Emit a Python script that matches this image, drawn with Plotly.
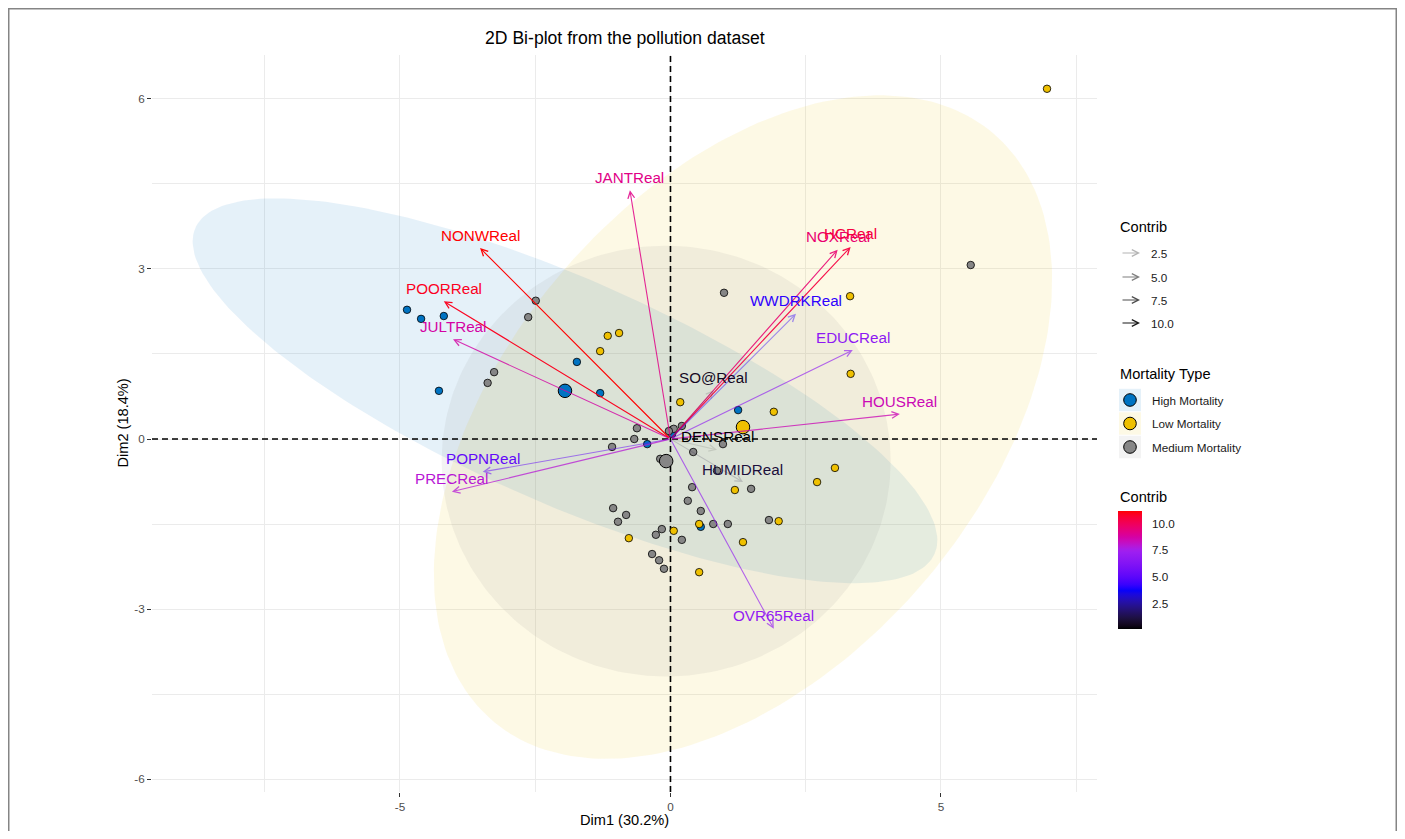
import numpy as np
import plotly.graph_objects as go

# ---------------- data ----------------
group_names = ["High Mortality", "Low Mortality", "Medium Mortality"]
group_colors = ["#0073C2", "#EFC000", "#868686"]

high_x = [-4.87, -4.61, -4.19, -4.28, -1.73, -1.30, 1.25, -0.43, 0.03, 0.56]
high_y = [2.28, 2.12, 2.17, 0.85, 1.36, 0.81, 0.51, -0.09, 0.09, -1.55]
low_x = [6.96, 3.32, 3.33, 1.91, 3.04, 2.71, -1.16, -0.95, -1.30, 0.18, 1.19, 0.53, 0.06, -0.77, 1.34, 2.00, 0.53]
low_y = [6.18, 2.52, 1.15, 0.48, -0.51, -0.76, 1.82, 1.87, 1.55, 0.65, -0.90, -1.50, -1.62, -1.75, -1.82, -1.45, -2.35]
med_x = [5.55, 0.99, -2.49, -2.63, -3.26, -3.38, -0.62, -0.67, -1.08, 0.06, 0.21, -0.03, -0.19, 0.42, 0.97, 0.86,
         1.49, 0.40, 0.32, 0.56, 0.79, 1.06, 1.82, -1.06, -0.82, -0.97, -0.16, -0.27, 0.21, -0.34, -0.21, -0.12]
med_y = [3.07, 2.58, 2.44, 2.15, 1.18, 0.99, 0.19, 0.00, -0.14, 0.18, 0.23, 0.14, -0.35, -0.23, -0.09, -0.56,
         -0.88, -0.85, -1.09, -1.27, -1.50, -1.50, -1.43, -1.22, -1.34, -1.46, -1.59, -1.69, -1.78, -2.03, -2.14, -2.29]

# group means (large points) and confidence-ellipse axes (data units)
centroid_x = [-1.95, 1.34, -0.08]
centroid_y = [0.85, 0.21, -0.39]
ell_a_x = [6.83, 4.63, 4.15]
ell_a_y = [-2.88, 5.18, 0.00]
ell_b_x = [-0.85, 3.35, 0.00]
ell_b_y = [-1.80, -2.73, 3.80]

# variables (arrow tips) and their contributions
var_names = ["JANTReal", "NONWReal", "POORReal", "JULTReal", "POPNReal", "PRECReal", "NOXReal", "HCReal",
             "WWDRKReal", "EDUCReal", "HOUSReal", "OVR65Real", "SO@Real", "DENSReal", "HUMIDReal"]
var_x = [-0.75, -3.52, -4.19, -4.02, -3.47, -4.04, 3.09, 3.33, 2.32, 3.37, 4.24, 1.91, 0.80, 0.86, 1.34]
var_y = [4.39, 3.37, 2.43, 1.76, -0.58, -0.93, 3.34, 3.39, 2.21, 1.57, 0.44, -3.35, 0.86, -0.19, -0.76]
var_contrib = [9.2, 11.15, 10.9, 8.7, 5.2, 7.9, 9.6, 10.4, 4.1, 6.7, 8.4, 6.9, 0.6, 0.09, 1.0]

gradient_cols = ["#000000", "#0000FF", "#A020F0", "#FF0000"]
contrib_breaks = [2.5, 5.0, 7.5, 10.0]
contrib_labels = ["2.5", "5.0", "7.5", "10.0"]

x_tickvals = [-5, 0, 5]
x_ticktext = ["-5", "0", "5"]
y_tickvals = [-6, -3, 0, 3, 6]
y_ticktext = ["-6", "-3", "0", "3", "6"]
x_minor = [-7.5, -2.5, 2.5, 7.5]
y_minor = [-4.5, -1.5, 1.5, 4.5]

# ---------------- layout helpers (page pixel -> paper) ----------------
FONT = "Liberation Sans, Arial, sans-serif"
OFF = 8                      # page body margin
W, H = 1389, 823             # figure size
PL, PR, PT, PB = 152, 1097, 55, 792   # panel edges in page pixels
XR = [-9.584, 7.884]
YR = [-6.229, 6.776]


def px(xp):
    return (xp - PL) / (PR - PL)


def py(yp):
    return (PB - yp) / (PB - PT)


M = np.array([[0.4124564, 0.3575761, 0.1804375],
              [0.2126729, 0.7151522, 0.0721750],
              [0.0193339, 0.1191920, 0.9503041]])
MINV = np.linalg.inv(M)
WP = np.array([0.95047, 1.0, 1.08883])


def _f(t):
    d = 6 / 29
    return np.where(t > d ** 3, np.cbrt(t), t / (3 * d * d) + 4 / 29)


def _finv(t):
    d = 6 / 29
    return np.where(t > d, t ** 3, 3 * d * d * (t - 4 / 29))


def hex_to_lab(h):
    rgb = np.array([int(h[i:i + 2], 16) for i in (1, 3, 5)]) / 255.0
    lin = np.where(rgb <= 0.04045, rgb / 12.92, ((rgb + 0.055) / 1.055) ** 2.4)
    xyz = (M @ lin) / WP
    fx, fy, fz = _f(xyz)
    return np.array([116 * fy - 16, 500 * (fx - fy), 200 * (fy - fz)])


def lab_to_rgb(lab):
    L, a, b = lab
    fy = (L + 16) / 116
    fx = fy + a / 500
    fz = fy - b / 200
    xyz = _finv(np.array([fx, fy, fz])) * WP
    lin = np.clip(MINV @ xyz, 0, 1)
    s = np.where(lin <= 0.0031308, 12.92 * lin, 1.055 * lin ** (1 / 2.4) - 0.055)
    return tuple(int(round(float(v) * 255)) for v in np.clip(s, 0, 1))


GL = [hex_to_lab(h) for h in gradient_cols]
CMIN, CMAX = min(var_contrib), max(var_contrib)


def grad_rgb(v):
    t = float(np.clip((v - CMIN) / (CMAX - CMIN), 0, 1)) * (len(GL) - 1)
    i = min(int(t), len(GL) - 2)
    f = t - i
    return lab_to_rgb(GL[i] * (1 - f) + GL[i + 1] * f)


def alpha_of(v):
    return 0.1 + 0.9 * (v - CMIN) / (CMAX - CMIN)


def rgba(hexc, a):
    r, g, b = (int(hexc[i:i + 2], 16) for i in (1, 3, 5))
    return f"rgba({r},{g},{b},{a})"


fig = go.Figure()

# ---------------- ellipses ----------------
t = np.linspace(0, 2 * np.pi, 240)
for k in range(3):
    ex = centroid_x[k] + ell_a_x[k] * np.cos(t) + ell_b_x[k] * np.sin(t)
    ey = centroid_y[k] + ell_a_y[k] * np.cos(t) + ell_b_y[k] * np.sin(t)
    fig.add_trace(go.Scatter(x=ex, y=ey, mode="lines", fill="toself",
                             fillcolor=rgba(group_colors[k], 0.1), line=dict(width=0),
                             hoverinfo="skip", showlegend=False))

# ---------------- dashed reference lines through the origin ----------------
fig.add_trace(go.Scatter(x=[0, 0], y=YR, mode="lines", line=dict(color="black", width=1.6, dash="6px,4px"),
                         hoverinfo="skip", showlegend=False, cliponaxis=True))
fig.add_trace(go.Scatter(x=XR, y=[0, 0], mode="lines", line=dict(color="black", width=1.6, dash="6px,4px"),
                         hoverinfo="skip", showlegend=False, cliponaxis=True))

# ---------------- individuals ----------------
gx = [high_x, low_x, med_x]
gy = [high_y, low_y, med_y]
for k in range(3):
    fig.add_trace(go.Scatter(x=gx[k], y=gy[k], mode="markers",
                             marker=dict(size=7.5, color=group_colors[k], line=dict(color="#000000", width=0.8)),
                             hoverinfo="skip", showlegend=False))
for k in range(3):
    fig.add_trace(go.Scatter(x=[centroid_x[k]], y=[centroid_y[k]], mode="markers",
                             marker=dict(size=13.5, color=group_colors[k], line=dict(color="#000000", width=1)),
                             hoverinfo="skip", showlegend=False))

# colour bar (invisible markers carrying the contrib scale)
BAR_TOP, BAR_BOT = 511, 629
cs = []
for i in range(41):
    v = CMIN + (CMAX - CMIN) * i / 40
    r, g, b = grad_rgb(v)
    cs.append([i / 40, f"rgb({r},{g},{b})"])
fig.add_trace(go.Scatter(x=var_x, y=var_y, mode="markers", hoverinfo="skip", showlegend=False,
                         marker=dict(size=1, opacity=0, color=var_contrib, colorscale=cs, cmin=CMIN, cmax=CMAX,
                                     showscale=True,
                                     colorbar=dict(thickness=24, thicknessmode="pixels",
                                                   len=BAR_BOT - BAR_TOP, lenmode="pixels",
                                                   x=px(1118), xanchor="left", y=py((BAR_TOP + BAR_BOT) / 2),
                                                   yanchor="middle", xpad=0, ypad=0, outlinewidth=0,
                                                   tickmode="array", tickvals=contrib_breaks,
                                                   ticks="", showticklabels=False,
                                                   title=dict(text="")))))

shapes = []
annotations = []

# variable arrows + labels
for name, vx, vy, c in zip(var_names, var_x, var_y, var_contrib):
    r, g, b = grad_rgb(c)
    annotations.append(dict(x=vx, y=vy, xref="x", yref="y", ax=0, ay=0, axref="x", ayref="y", text="",
                            showarrow=True, arrowhead=5, arrowsize=1.2, arrowwidth=1.1, standoff=0,
                            arrowcolor=f"rgba({r},{g},{b},{alpha_of(c):.3f})"))
    annotations.append(dict(x=vx, y=vy, xref="x", yref="y", text=name, showarrow=False, yshift=13,
                            xanchor="center", yanchor="middle",
                            font=dict(family=FONT, size=15.2, color=f"rgb({r},{g},{b})")))

# titles
annotations.append(dict(x=0.5, y=py(38), xref="paper", yref="paper", text="2D Bi-plot from the pollution dataset",
                        showarrow=False, xanchor="center", yanchor="middle",
                        font=dict(family=FONT, size=17.6, color="black")))
annotations.append(dict(x=0.5, y=py(820), xref="paper", yref="paper", text="Dim1 (30.2%)",
                        showarrow=False, xanchor="center", yanchor="middle",
                        font=dict(family=FONT, size=14.6, color="black")))
annotations.append(dict(x=px(122), y=0.5, xref="paper", yref="paper", text="Dim2 (18.4%)", textangle=-90,
                        showarrow=False, xanchor="center", yanchor="middle",
                        font=dict(family=FONT, size=14.6, color="black")))

# legend: Contrib (alpha arrows)
annotations.append(dict(x=px(1118), y=py(227), xref="paper", yref="paper", text="Contrib", showarrow=False,
                        xanchor="left", yanchor="middle", font=dict(family=FONT, size=14.6, color="black")))
for val, lab, yp in zip(contrib_breaks, contrib_labels, [253, 277, 300, 323]):
    annotations.append(dict(x=px(1140), y=py(yp), xref="paper", yref="paper", ax=-19, ay=0, text="",
                            showarrow=True, arrowhead=5, arrowsize=1.2, arrowwidth=1.1, standoff=0,
                            arrowcolor=f"rgba(0,0,0,{alpha_of(val):.3f})"))
    annotations.append(dict(x=px(1149), y=py(yp), xref="paper", yref="paper", text=lab, showarrow=False,
                            xanchor="left", yanchor="middle", font=dict(family=FONT, size=11.7, color="#1a1a1a")))

# legend: Mortality Type
annotations.append(dict(x=px(1118), y=py(374), xref="paper", yref="paper", text="Mortality Type", showarrow=False,
                        xanchor="left", yanchor="middle", font=dict(family=FONT, size=14.6, color="black")))
for k, yp in enumerate([400, 423.5, 447]):
    shapes.append(dict(type="rect", xref="paper", yref="paper", xsizemode="pixel", ysizemode="pixel",
                       xanchor=px(1130), yanchor=py(yp), x0=-11, x1=11, y0=-11.2, y1=11.2,
                       fillcolor=rgba(group_colors[k], 0.1), line=dict(width=0)))
    shapes.append(dict(type="circle", xref="paper", yref="paper", xsizemode="pixel", ysizemode="pixel",
                       xanchor=px(1130), yanchor=py(yp), x0=-6.3, x1=6.3, y0=-6.3, y1=6.3,
                       fillcolor=group_colors[k], line=dict(color="black", width=1)))
    annotations.append(dict(x=px(1150), y=py(yp), xref="paper", yref="paper", text=group_names[k],
                            showarrow=False, xanchor="left", yanchor="middle",
                            font=dict(family=FONT, size=11.7, color="#1a1a1a")))

# legend: Contrib colour bar title, tick labels and white tick marks
annotations.append(dict(x=px(1118), y=py(497), xref="paper", yref="paper", text="Contrib", showarrow=False,
                        xanchor="left", yanchor="middle", font=dict(family=FONT, size=14.6, color="black")))
for val, lab in zip(contrib_breaks, contrib_labels):
    yb = BAR_BOT - (val - CMIN) / (CMAX - CMIN) * (BAR_BOT - BAR_TOP)
    annotations.append(dict(x=px(1150), y=py(yb), xref="paper", yref="paper", text=lab, showarrow=False,
                            xanchor="left", yanchor="middle", font=dict(family=FONT, size=11.7, color="#1a1a1a")))
    for xa, xb in [(1118, 1122.5), (1137.5, 1142)]:
        shapes.append(dict(type="line", xref="paper", yref="paper", x0=px(xa), x1=px(xb), y0=py(yb), y1=py(yb),
                           line=dict(color="white", width=1)))

# outer frame (as far as the figure canvas reaches)
shapes.append(dict(type="rect", xref="paper", yref="paper", x0=px(OFF + 0.75), x1=px(OFF + W - 0.75),
                   y0=py(OFF + H + 20), y1=py(OFF + 0.75),
                   line=dict(color="#858585", width=1.5), fillcolor="rgba(0,0,0,0)", layer="above"))

axis_common = dict(showgrid=True, gridcolor="#EBEBEB", gridwidth=1.1, zeroline=False, showline=False,
                   ticks="outside", ticklen=4, tickwidth=1, tickcolor="#333333",
                   tickfont=dict(family=FONT, size=11.7, color="#4D4D4D"), tickmode="array")

fig.update_layout(
    width=W, height=H,
    margin=dict(l=PL - OFF, r=W - (PR - OFF), t=PT - OFF, b=H - (PB - OFF), autoexpand=False),
    paper_bgcolor="white", plot_bgcolor="white",
    showlegend=False, hovermode=False,
    xaxis=dict(range=XR, tickvals=x_tickvals, ticktext=x_ticktext,
               minor=dict(tickvals=x_minor, showgrid=True, gridcolor="#EBEBEB", gridwidth=0.6, ticks=""),
               **axis_common),
    yaxis=dict(range=YR, tickvals=y_tickvals, ticktext=y_ticktext,
               minor=dict(tickvals=y_minor, showgrid=True, gridcolor="#EBEBEB", gridwidth=0.6, ticks=""),
               **axis_common),
    shapes=shapes, annotations=annotations,
)

fig.write_html("out.html")
